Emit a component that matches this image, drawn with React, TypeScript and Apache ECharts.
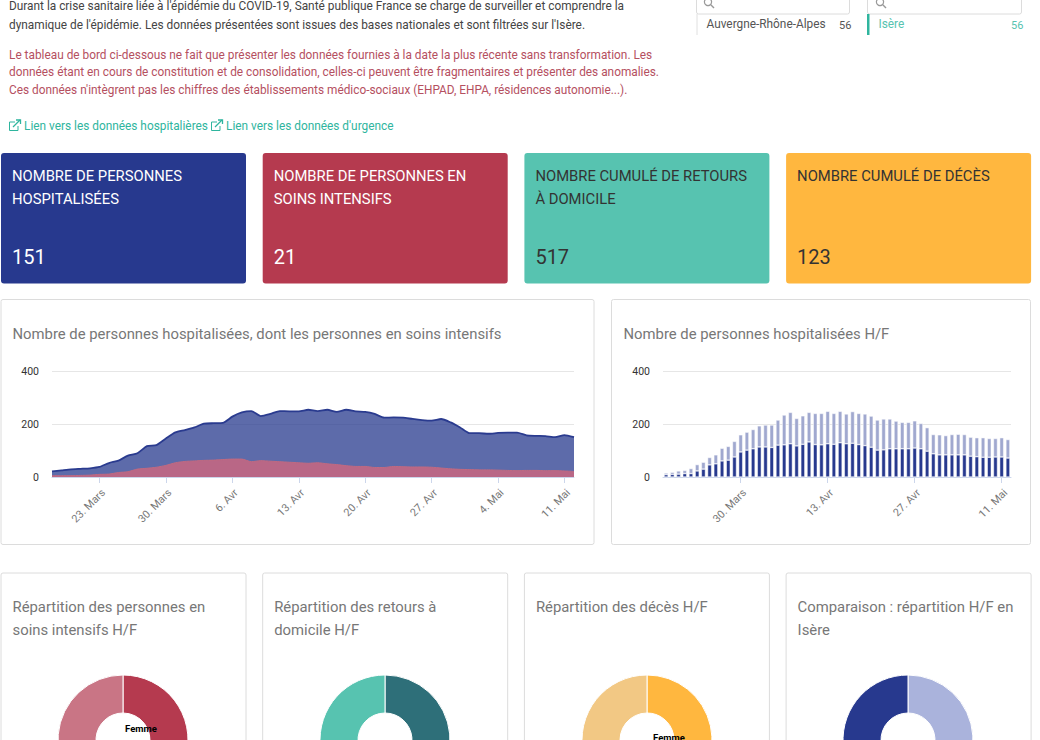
import React, { useEffect, useRef } from "react";
import * as echarts from "echarts";

const dates = ["18. Mars","19. Mars","20. Mars","21. Mars","22. Mars","23. Mars","24. Mars","25. Mars","26. Mars","27. Mars","28. Mars","29. Mars","30. Mars","31. Mars","1. Avr","2. Avr","3. Avr","4. Avr","5. Avr","6. Avr","7. Avr","8. Avr","9. Avr","10. Avr","11. Avr","12. Avr","13. Avr","14. Avr","15. Avr","16. Avr","17. Avr","18. Avr","19. Avr","20. Avr","21. Avr","22. Avr","23. Avr","24. Avr","25. Avr","26. Avr","27. Avr","28. Avr","29. Avr","30. Avr","1. Mai","2. Mai","3. Mai","4. Mai","5. Mai","6. Mai","7. Mai","8. Mai","9. Mai","10. Mai","11. Mai","12. Mai"];
const hospitalised = [21,25,29,31,33,38,53,62,81,90,117,121,146,169,178,188,202,204,205,229,245,250,231,239,250,249,249,255,250,255,247,255,249,247,239,225,226,225,220,216,214,220,207,188,166,166,164,167,168,168,158,156,155,151,159,151];
const intensive = [5,5,5,6,7,10,11,17,20,30,33,37,44,54,59,61,63,64,66,68,68,58,62,60,58,56,54,52,54,50,47,43,40,40,36,36,40,39,38,38,37,34,31,29,28,27,27,26,25,24,25,25,24,24,23,21];
const men = [9,10,11,13,13,23,30,46,50,61,64,76,95,102,107,114,114,112,121,122,126,118,124,133,123,122,126,124,130,126,128,123,119,113,102,103,107,107,107,107,110,107,98,88,84,84,84,84,84,79,77,75,75,76,76,72];
const women = [6,8,12,12,19,24,26,28,34,48,52,59,65,68,73,80,83,85,95,113,119,104,108,112,118,119,123,117,119,113,120,118,120,118,114,117,113,105,100,100,103,96,89,73,76,73,77,78,77,72,72,74,71,70,73,70];

const introLines = ["Durant la crise sanitaire liée à l'épidémie du COVID-19, Santé publique France se charge de surveiller et comprendre la","dynamique de l'épidémie. Les données présentées sont issues des bases nationales et sont filtrées sur l'Isère."];
const warningLines = ["Le tableau de bord ci-dessous ne fait que présenter les données fournies à la date la plus récente sans transformation. Les","données étant en cours de constitution et de consolidation, celles-ci peuvent être fragmentaires et présenter des anomalies.","Ces données n'intègrent pas les chiffres des établissements médico-sociaux (EHPAD, EHPA, résidences autonomie...)."];
const cardTitles = [["NOMBRE DE PERSONNES","HOSPITALISÉES"],["NOMBRE DE PERSONNES EN","SOINS INTENSIFS"],["NOMBRE CUMULÉ DE RETOURS","À DOMICILE"],["NOMBRE CUMULÉ DE DÉCÈS"]];
const cardValues = ["151","21","517","123"];
const pieTitles = [["Répartition des personnes en","soins intensifs H/F"],["Répartition des retours à","domicile H/F"],["Répartition des décès H/F"],["Comparaison : répartition H/F en","Isère"]];
const pieFemme = [29,47,43,48];
const pieHomme = [71,53,57,52];

const FONT = "Roboto, sans-serif";
const BLUE = "#27398e", RED = "#b53a4f", TEAL = "#57c3b0", ORANGE = "#ffb73f";
const txt = (text: string, x: number, y: number, fontSize: number, fill: string, extra: any = {}) => ({
  type: "text", z: 5, silent: true,
  style: { text, x, y, fontSize, fill, fontFamily: FONT, verticalAlign: "middle", ...extra },
});
const box = (x: number, y: number, width: number, height: number, stroke = "#dcdcdc", r = 2) => ({
  type: "rect", z: -1, silent: true, shape: { x, y, width, height, r },
  style: { fill: "#fff", stroke, lineWidth: 1 },
});
const poly = (points: number[][], stroke: string, lineWidth = 1) => ({
  type: "polyline", z: 5, silent: true, shape: { points }, style: { stroke, lineWidth, fill: "none" },
});
const linkIcon = (x: number, y: number) => [
  poly([[x + 6, y + 2], [x + 0.5, y + 2], [x + 0.5, y + 10.5], [x + 9, y + 10.5], [x + 9, y + 6]], "#2fb59e"),
  poly([[x + 4, y + 7], [x + 11, y]], "#2fb59e", 1.3),
  poly([[x + 7, y], [x + 11.5, y], [x + 11.5, y + 4]], "#2fb59e", 1.3),
];
const lens = (x: number, y: number) => [
  { type: "circle", z: 5, silent: true, shape: { cx: x, cy: y, r: 3.6 }, style: { fill: "none", stroke: "#999", lineWidth: 1.2 } },
  poly([[x + 2.8, y + 2.8], [x + 6, y + 6]], "#999", 1.4),
];

const buildGraphic = () => {
  const g: any[] = [];
  introLines.forEach((l, i) => g.push(txt(l, 9, 6 + i * 18.5, 11.85, "#444")));
  warningLines.forEach((l, i) => g.push(txt(l, 9, 54.5 + i * 17.5, 11.85, "#b5505f")));
  g.push(...linkIcon(9, 120), ...linkIcon(211, 120));
  g.push(txt("Lien vers les données hospitalières", 24, 125.5, 11.85, "#2fb59e"));
  g.push(txt("Lien vers les données d'urgence", 226, 125.5, 11.85, "#2fb59e"));

  g.push(box(696.5, -5, 153, 19), box(867.5, -5, 154, 19));
  g.push(...lens(708, 2), ...lens(880, 2));
  g.push(poly([[697, 14], [697, 35]], "#e0e0e0"));
  g.push(txt("Auvergne-Rhône-Alpes", 706.5, 24, 11.85, "#555"));
  g.push(txt("56", 839, 25, 11, "#555"));
  g.push({ type: "rect", z: 5, silent: true, shape: { x: 867, y: 14, width: 2.5, height: 21 }, style: { fill: "#2fb59e" } });
  g.push(txt("Isère", 878.5, 24, 11.85, "#57c3b0"));
  g.push(txt("56", 1011, 25, 11, "#57c3b0"));

  const cardX = [1, 262.7, 524.4, 786.1];
  const cardFill = [BLUE, RED, TEAL, ORANGE];
  const cardInk = ["#fff", "#fff", "#333", "#333"];
  cardX.forEach((x, i) => {
    g.push({ type: "rect", z: 1, silent: true, shape: { x, y: 153, width: 245, height: 130.5, r: 3 }, style: { fill: cardFill[i] } });
    cardTitles[i].forEach((l, j) => g.push(txt(l, x + 11, 176 + j * 23, 14.8, cardInk[i])));
    g.push(txt(cardValues[i], x + 11, 257, 20, cardInk[i]));
  });

  g.push(box(1, 299.5, 593, 245), box(611.5, 299.5, 419, 245));
  g.push(txt("Nombre de personnes hospitalisées, dont les personnes en soins intensifs", 12.5, 333.5, 14.85, "#777"));
  g.push(txt("Nombre de personnes hospitalisées H/F", 623.5, 333.5, 14.85, "#777"));

  cardX.forEach((x, i) => {
    g.push(box(x, 573, 245, 200));
    pieTitles[i].forEach((l, j) => g.push(txt(l, x + 11.5, 606.5 + j * 23, 14.85, "#777")));
  });
  return g;
};

const xAxisBase = (gridIndex: number, step: number, first: number, boundaryGap: boolean) => ({
  type: "category", gridIndex, data: dates, boundaryGap,
  axisLine: { lineStyle: { color: "#ccd6eb" } },
  axisTick: { show: true, alignWithLabel: true, length: 6, lineStyle: { color: "#ccd6eb" }, interval: (i: number) => i % step === first },
  axisLabel: { rotate: 45, fontSize: 10.8, color: "#777", fontFamily: FONT, margin: 10, verticalAlign: "top", interval: (i: number) => i % step === first, hideOverlap: false },
});
const yAxisBase = (gridIndex: number) => ({
  type: "value", gridIndex, min: 0, max: 400, interval: 200,
  axisLine: { show: false }, axisTick: { show: false },
  axisLabel: { fontSize: 10.5, color: "#333", fontFamily: FONT, margin: 13 },
  splitLine: { lineStyle: { color: "#e6e6e6" } },
});

const pieSeries = (i: number, cx: number, femmeColor: string, hommeColor: string, lx: number, ly: number, showName: string) => ({
  type: "pie", center: [cx, 740], radius: [27, 65], startAngle: 90, clockwise: true, silent: true, avoidLabelOverlap: false,
  labelLine: { show: false },
  itemStyle: { borderColor: "#fff", borderWidth: 1 },
  label: { show: false },
  labelLayout: { x: lx, y: ly, align: "center", verticalAlign: "middle" },
  data: [
    { name: "Femme", value: pieFemme[i], itemStyle: { color: femmeColor }, label: { show: showName === "Femme", position: "inside", formatter: "{b}", color: "#000", fontSize: 9.5, fontWeight: "bold", fontFamily: FONT } },
    { name: "Homme", value: pieHomme[i], itemStyle: { color: hommeColor }, label: { show: showName === "Homme", position: "inside", formatter: "{b}", color: "#000", fontSize: 9.5, fontWeight: "bold", fontFamily: FONT } },
  ],
});

export default function App() {
  const ref = useRef<HTMLDivElement>(null);
  useEffect(() => {
    const chart = echarts.init(ref.current!, undefined, { renderer: "svg" });
    chart.setOption({
      animation: false,
      graphic: { elements: buildGraphic() },
      grid: [
        { left: 52, top: 371.5, width: 522, height: 105.5 },
        { left: 663, top: 371.5, width: 348, height: 105.5 },
      ],
      xAxis: [xAxisBase(0, 7, 5, false), xAxisBase(1, 14, 12, true)],
      yAxis: [yAxisBase(0), yAxisBase(1)],
      series: [
        { type: "line", name: "Hospitalisées", xAxisIndex: 0, yAxisIndex: 0, data: hospitalised, smooth: 0.2, symbol: "none", lineStyle: { color: "#2a3b8f", width: 1.8 }, areaStyle: { color: BLUE, opacity: 0.75 } },
        { type: "line", name: "Soins intensifs", xAxisIndex: 0, yAxisIndex: 0, data: intensive, smooth: 0.2, symbol: "none", lineStyle: { color: "#c06a80", width: 1 }, areaStyle: { color: "#d8657a", opacity: 0.75 } },
        { type: "bar", name: "Homme", xAxisIndex: 1, yAxisIndex: 1, stack: "hf", data: men, barWidth: 4, itemStyle: { color: BLUE, borderColor: "#fff", borderWidth: 0.5 } },
        { type: "bar", name: "Femme", xAxisIndex: 1, yAxisIndex: 1, stack: "hf", data: women, barWidth: 4, itemStyle: { color: "#a0a8cf", borderColor: "#fff", borderWidth: 0.5 } },
        pieSeries(0, 123, RED, "#c97585", 141, 728, "Femme"),
        pieSeries(1, 385, "#2e6f79", TEAL, 361, 744, "Homme"),
        pieSeries(2, 647, ORANGE, "#f2c884", 669, 737, "Femme"),
        pieSeries(3, 908, "#aab3dc", BLUE, 884, 744, "Homme"),
      ],
    });
    return () => chart.dispose();
  }, []);
  return <div ref={ref} style={{ position: "fixed", left: 0, top: 0, width: 1040, height: 740, background: "#fff", overflow: "hidden" }} />;
}
